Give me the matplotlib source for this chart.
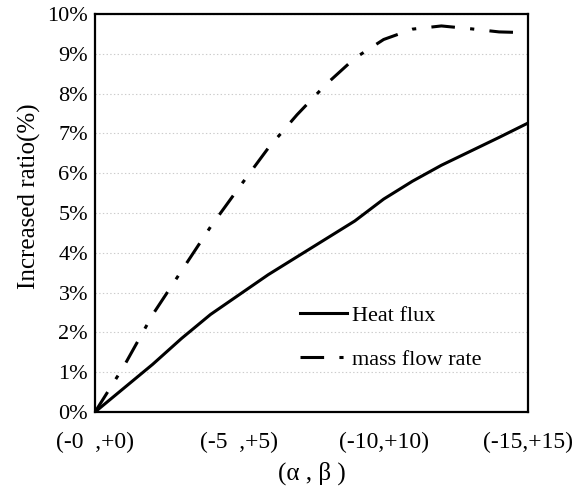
import matplotlib.pyplot as plt

plt.rcParams['font.family'] = ['Liberation Serif', 'DejaVu Serif']
plt.rcParams['lines.scale_dashes'] = False

# (alpha, beta) step, 0..15
steps = [0, 1, 2, 3, 4, 5, 6, 7, 8, 9, 10, 11, 12, 13, 14, 15]
heat_flux = [0, 0.6, 1.2, 1.85, 2.45, 2.95, 3.45, 3.9, 4.35, 4.8, 5.35, 5.8, 6.2, 6.55, 6.9, 7.26]
mass_flow = [0, 1.15, 2.45, 3.55, 4.65, 5.65, 6.63, 7.47, 8.23, 8.89, 9.36, 9.62, 9.7, 9.63, 9.55, 9.53]

xtick_pos = [0, 5, 10, 15]
xtick_labels = ['(-0  ,+0)', '(-5  ,+5)', '(-10,+10)', '(-15,+15)']
ytick_pos = list(range(0, 11))
ytick_labels = [f'{v}%' for v in ytick_pos]

fig = plt.figure(figsize=(5.84, 4.88), dpi=100)
ax = fig.add_axes([0.1627, 0.1557, 0.7414, 0.8156])

ax.plot(steps, heat_flux, color='black', lw=2.2, label='Heat flux')
ax.plot(steps, mass_flow, color='black', lw=2.2,
        linestyle=(0, (17, 11, 3, 11)), label='mass flow rate')

ax.set_xlim(0, 15)
ax.set_ylim(0, 10)
ax.set_xticks(xtick_pos)
ax.set_xticklabels(xtick_labels)
ax.set_yticks(ytick_pos)
ax.set_yticklabels(ytick_labels)
ax.tick_params(axis='both', length=0)
ax.tick_params(axis='x', pad=14, labelsize=17)
ax.tick_params(axis='y', pad=5, labelsize=16)

ax.grid(axis='y', linestyle=':', color='#cccccc', lw=0.8)
ax.set_axisbelow(True)

for s in ax.spines.values():
    s.set_linewidth(1.6)

ax.set_xlabel('(α , β )', fontsize=18)
ax.set_ylabel('Increased ratio(%)', fontsize=18)
ax.xaxis.set_label_coords(0.5, -0.125)
ax.yaxis.set_label_coords(-0.125, 0.543)

ax.legend(loc='upper left', bbox_to_anchor=(0.4745, 0.268), frameon=False,
          fontsize=16, handlelength=2.1, handletextpad=0.22,
          labelspacing=1.05, borderpad=0, borderaxespad=0)

plt.savefig('out.png')
